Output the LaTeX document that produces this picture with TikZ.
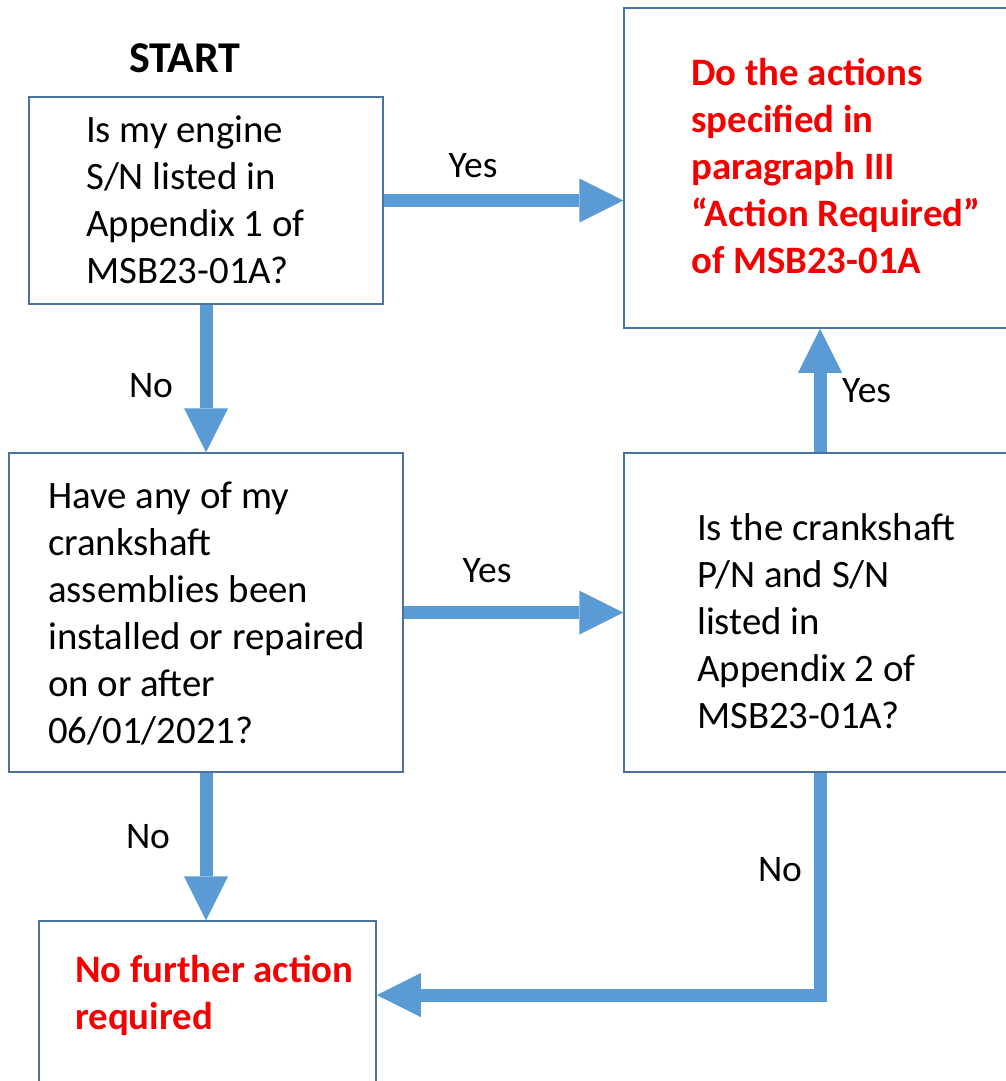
\documentclass[tikz,border=0pt]{standalone}
\usepackage{fontspec}
\setmainfont{Carlito}
\usetikzlibrary{arrows.meta}
\definecolor{arrowblue}{RGB}{91,155,213}
\definecolor{boxblue}{RGB}{74,115,160}
\definecolor{alertred}{RGB}{245,0,0}
\newcommand{\boxlines}[1]{\begin{tabular}[t]{@{}l@{}}#1\end{tabular}}
\tikzset{
  box/.style={draw=boxblue, line width=1.5pt, fill=white, rectangle, inner sep=0pt},
  boxtext/.style={anchor=base west, inner sep=0pt, font=\fontsize{38.8}{47}\selectfont},
  redtext/.style={boxtext, text=alertred, font=\fontsize{38.8}{47}\selectfont\bfseries},
  lbl/.style={anchor=base, inner sep=0pt, font=\fontsize{37.5}{42}\selectfont},
  flow/.style={draw=arrowblue, line width=13pt, line join=miter,
    -{Triangle[length=44pt, width=44pt, line width=0pt]}},
}
\begin{document}
\begin{tikzpicture}[x=1pt, y=-1pt]
\useasboundingbox (0,0) rectangle (1006,1081);
\fill[white] (0,0) rectangle (1006,1081);
\clip (0,0) rectangle (1006,1081);

% boxes
\node[box, minimum width=354pt, minimum height=207pt] (b1) at (206,200.5) {};
\node[box, minimum width=388pt, minimum height=320pt] (b2) at (818,168) {};
\node[box, minimum width=394pt, minimum height=319pt] (b3) at (206,612.5) {};
\node[box, minimum width=388pt, minimum height=319pt] (b4) at (818,612.5) {};
\node[box, minimum width=337pt, minimum height=169pt] (b5) at (207.5,1005.5) {};

% title
\node[anchor=base, inner sep=0pt, font=\fontsize{44}{50}\selectfont\bfseries] (start) at (185,72) {START};

% box texts
\node[boxtext] (t1) at (86,142) {\boxlines{Is my engine\\S/N listed in\\Appendix 1 of\\MSB23-01A?}};
\node[redtext] (t2) at (691,85) {\boxlines{Do the actions\\specified in\\paragraph III\\“Action Required”\\of MSB23-01A}};
\node[boxtext] (t3) at (48,508) {\boxlines{Have any of my\\crankshaft\\assemblies been\\installed or repaired\\on or after\\06/01/2021?}};
\node[boxtext] (t4) at (697,540) {\boxlines{Is the crankshaft\\P/N and S/N\\listed in\\Appendix 2 of\\MSB23-01A?}};
\node[redtext] (t5) at (75,982) {\boxlines{No further action\\required}};

% connectors
\coordinate (k) at (820,995);
\draw[flow] (b1.east) -- (b1.east -| b2.west);
\draw[flow] (b1.south) -- (b1.south |- b3.north);
\draw[flow] (b3.east) -- (b3.east -| b4.west);
\draw[flow] ([xshift=2pt]b4.north) -- ([xshift=2pt]b4.north |- b2.south);
\draw[flow] (b3.south) -- (b3.south |- b5.north);
\draw[flow] (b4.south -| k) -- (k) -- (k -| b5.east);

% labels
\node[lbl] (y1) at (473,177) {Yes};
\node[lbl] (n1) at (151,397) {No};
\node[lbl] (y2) at (487,582) {Yes};
\node[lbl, anchor=base west] (y3) at (842,402) {Yes};
\node[lbl] (n2) at (148,848) {No};
\node[lbl] (n3) at (780,881) {No};
\end{tikzpicture}
\end{document}
